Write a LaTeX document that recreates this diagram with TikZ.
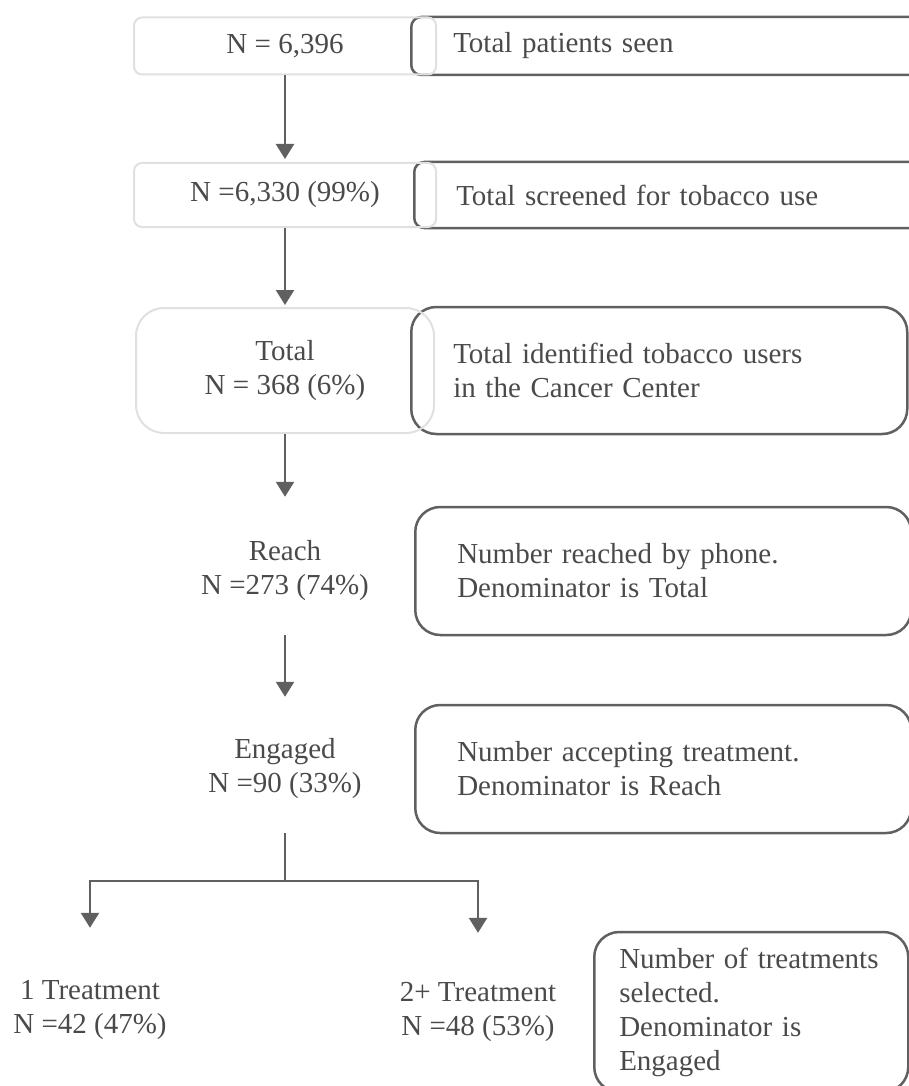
\documentclass[tikz,border=0pt]{standalone}
\usepackage{fontspec}
\setmainfont{Liberation Serif}
\usepackage{tikz}
\usetikzlibrary{arrows.meta}
\definecolor{boxgray}{HTML}{E0E0E0}
\definecolor{linegray}{HTML}{606060}
\definecolor{textgray}{HTML}{4A4A4A}

\begin{document}
\begin{tikzpicture}[x=1pt, y=-1pt,
            every node/.style={text=textgray, font=\fontsize{29}{34}\selectfont},
            count-node/.style={draw=boxgray, line width=2pt, rounded corners=8pt, minimum width=302pt, align=center},
            note-node/.style={draw=linegray, line width=2.5pt, rounded corners=25pt, anchor=west, align=left, inner xsep=42pt, text width=412pt},
            plain-node/.style={align=center},
            flow/.style={draw=linegray, line width=2.5pt, -{Triangle[length=15pt,width=18pt]}},
        ]
            \useasboundingbox (0, 0) rectangle (909, 1086);

            \node[note-node, rounded corners=10pt, text width=440pt, minimum height=58pt] (seen) at (410, 46) {Total patients seen};
            \node[note-node, rounded corners=10pt, text width=440pt, minimum height=66pt] (screened) at (413, 195) {Total screened for tobacco use};
            \node[note-node, minimum height=127pt] (identified) at (410, 370.5) {Total identified tobacco users\\in the Cancer Center};
            \node[note-node, minimum height=128pt] (reached) at (414, 571) {Number reached by phone.\\Denominator is Total};
            \node[note-node, minimum height=128pt] (accepting) at (414, 769) {Number accepting treatment.\\Denominator is Reach};
            \node[note-node, inner xsep=25pt, text width=264pt, minimum height=160pt] (selected) at (593, 1012) {Number of treatments\\selected.\\Denominator is\\Engaged};

            \node[count-node, minimum height=57pt] (6396) at (285, 46) {N = 6,396};
            \node[count-node, minimum height=64pt] (6330) at (285, 195) {N =6,330 (99\%)};
            \node[count-node, rounded corners=28pt, minimum width=298pt, minimum height=125pt] (368) at (285, 370.5) {Total\\N = 368 (6\%)};

            \node[plain-node, minimum height=128pt] (273) at (285, 571) {Reach\\N =273 (74\%)};
            \node[plain-node, minimum height=128pt] (90) at (285, 769) {Engaged\\N =90 (33\%)};
            \node[plain-node, minimum height=150pt] (42) at (90, 1010) {1 Treatment\\N =42 (47\%)};
            \node[plain-node, minimum height=144pt] (48) at (478, 1012) {2+ Treatment\\N =48 (53\%)};
            \coordinate (split) at (285, 881);

            \draw[flow, shorten >=3pt] (6396) -- (6330);
            \draw[flow, shorten >=2pt] (6330) -- (368);
            \draw[flow, shorten >=10pt] (368) -- (273);
            \draw[flow, shorten >=8pt] (273) -- (90);
            \draw[draw=linegray, line width=2.5pt] (90) -- (split);
            \draw[flow, shorten >=7pt] (split) -| (42);
            \draw[flow, shorten >=7pt] (split) -| (48);
        \end{tikzpicture}
\end{document}
